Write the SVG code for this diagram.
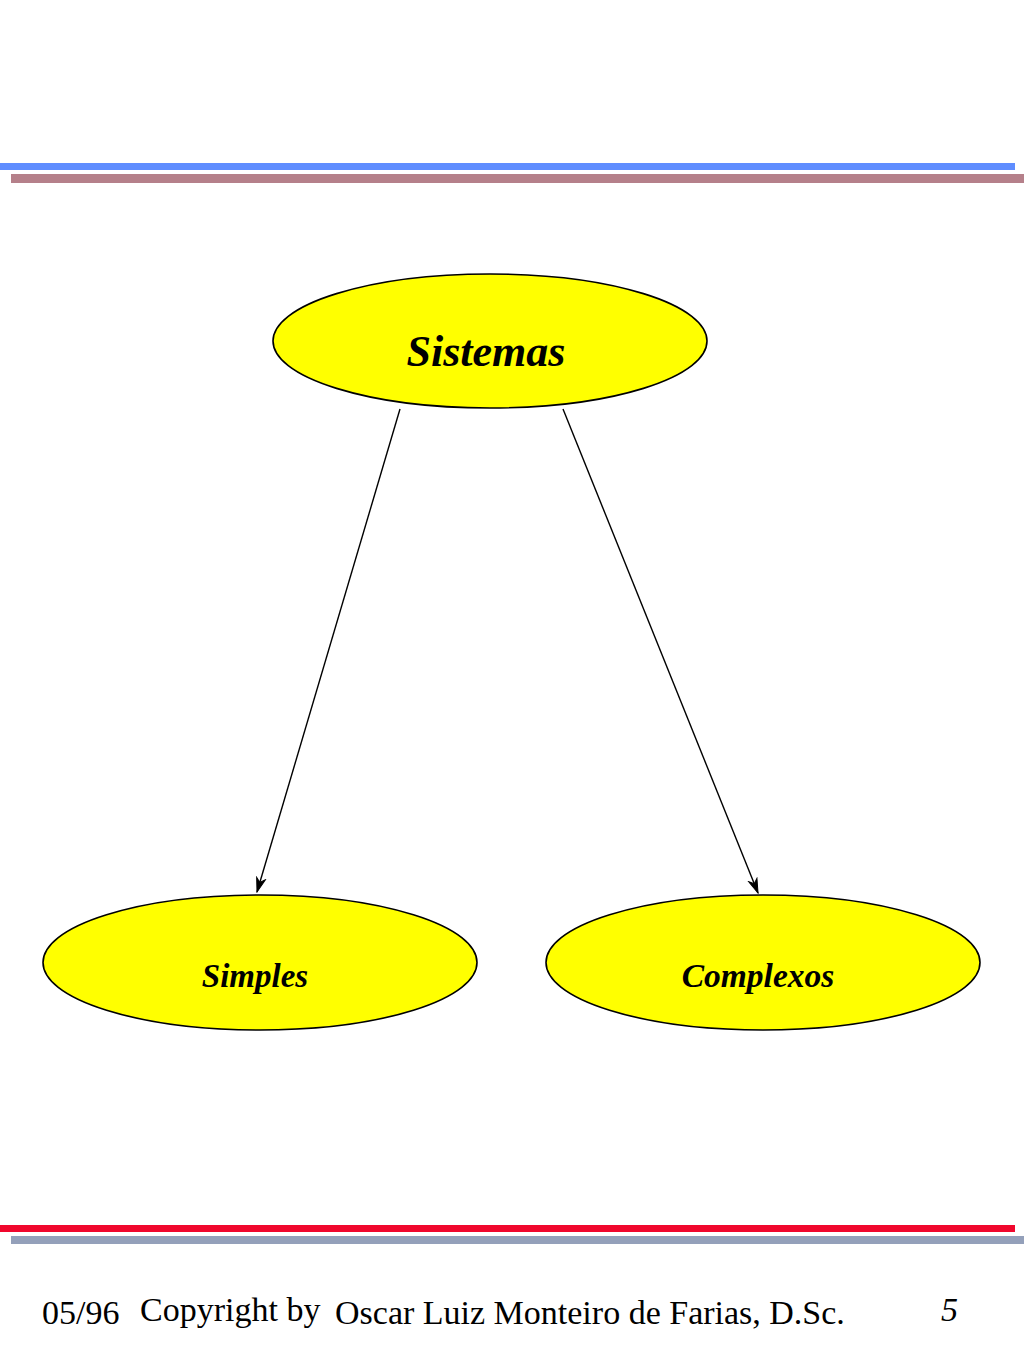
<svg xmlns="http://www.w3.org/2000/svg" width="1024" height="1365" viewBox="0 0 1024 1365">
<style>
.node ellipse{fill:#ffff00;stroke:#000;stroke-width:1.6}
.node text{font-family:"Liberation Serif","Times New Roman",serif;font-weight:bold;font-style:italic;fill:#000;text-anchor:middle}
.conn line{stroke:#000;stroke-width:1.4}
.foot{font-family:"Liberation Serif","Times New Roman",serif;font-size:34px;fill:#000}
</style>
<defs>
<marker id="arr" markerWidth="16" markerHeight="12" refX="15" refY="6" orient="auto" markerUnits="userSpaceOnUse">
<path d="M1,1.5 L15,6 L1,10.5 L5,6 Z" fill="#000" stroke="#000" stroke-width="1" stroke-linejoin="miter"/>
</marker>
</defs>
<rect width="1024" height="1365" fill="#fff"/>
<g id="rules">
<rect x="0" y="163" width="1015" height="7" fill="#5f8dff"/>
<rect x="11" y="174" width="1013" height="9" fill="#b5808a"/>
<rect x="0" y="1225" width="1015" height="7" fill="#f0072d"/>
<rect x="11" y="1236" width="1013" height="8" fill="#94a0ba"/>
</g>
<g id="connectors" class="conn">
<line x1="400" y1="409" x2="257" y2="892" marker-end="url(#arr)"/>
<line x1="563" y1="409" x2="758" y2="893" marker-end="url(#arr)"/>
</g>
<g id="sistemas" class="node">
<ellipse cx="490" cy="341" rx="217" ry="67"/>
<text x="486" y="366" font-size="44">Sistemas</text>
</g>
<g id="simples" class="node">
<ellipse cx="260" cy="962.5" rx="217" ry="67.5"/>
<text x="255" y="987" font-size="33">Simples</text>
</g>
<g id="complexos" class="node">
<ellipse cx="763" cy="962.5" rx="217" ry="67.5"/>
<text x="758" y="987" font-size="33.5">Complexos</text>
</g>
<g id="footer">
<text class="foot" x="42" y="1324">05/96</text>
<text class="foot" x="140" y="1321">Copyright by</text>
<text class="foot" x="335" y="1324">Oscar Luiz Monteiro de Farias, D.Sc.</text>
<text class="foot" x="941" y="1321" font-style="italic">5</text>
</g>
</svg>
